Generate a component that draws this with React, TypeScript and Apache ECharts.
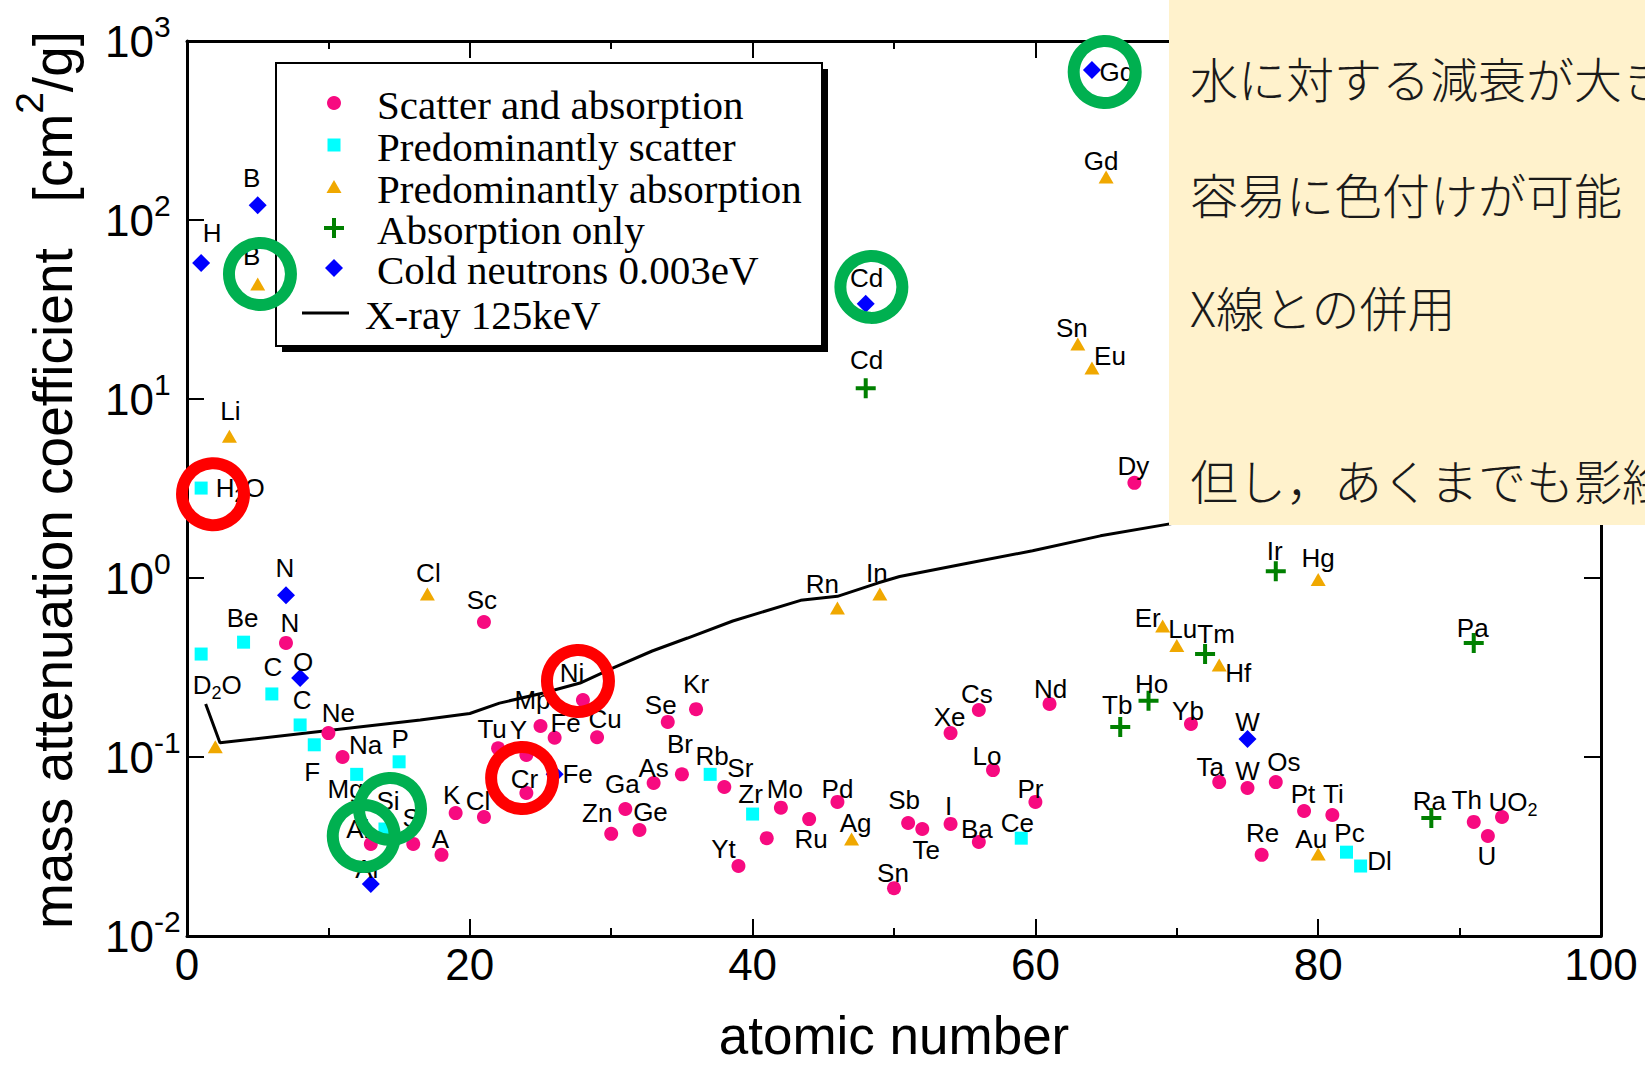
import React, { useEffect, useRef } from 'react';
import * as echarts from 'echarts';

// Element points: [atomic number, mass attenuation coefficient (cm^2/g), label]
type Pt = [number, number, string];

const scatterAndAbsorption: Pt[] = [
  [7, 0.434, 'N'], [10, 0.136, 'Ne'], [11, 0.1, 'Na'], [13, 0.0327, 'Al'], [16, 0.0327, 'S'],
  [18, 0.0284, 'A'], [19, 0.0486, 'K'], [21, 0.0462, 'Cl'], [21, 0.568, 'Sc'], [22, 0.112, 'Tu'],
  [24, 0.1026, 'Y'], [24, 0.063, 'Cr'], [25, 0.149, 'Mp'], [26, 0.128, 'Fe'], [28, 0.208, 'Ni'],
  [29, 0.129, 'Cu'], [30, 0.0372, 'Zn'], [31, 0.0512, 'Ga'], [32, 0.0391, 'Ge'], [33, 0.0716, 'As'],
  [34, 0.157, 'Se'], [35, 0.08, 'Br'], [36, 0.185, 'Kr'], [38, 0.068, 'Sr'], [39, 0.0246, 'Yt'],
  [41, 0.0352, ''], [42, 0.0521, 'Mo'], [44, 0.045, 'Ru'], [46, 0.0561, 'Pd'], [50, 0.0185, 'Sn'],
  [51, 0.0428, 'Sb'], [52, 0.0396, 'Te'], [54, 0.0423, 'I'], [54, 0.136, 'Xe'], [56, 0.183, 'Cs'],
  [56, 0.0335, 'Ba'], [57, 0.0845, 'Lo'], [60, 0.0561, 'Pr'], [61, 0.198, 'Nd'], [67, 3.4, 'Dy'],
  [71, 0.153, 'Yb'], [73, 0.0724, 'Ta'], [75, 0.0671, 'W'], [76, 0.0284, 'Re'], [77, 0.0724, 'Os'],
  [79, 0.0499, 'Pt'], [81, 0.0474, 'Ti'], [91, 0.0434, 'Th'], [92, 0.0362, 'U'], [93, 0.0462, 'UO2'],
];

const predominantlyScatter: Pt[] = [
  [1, 3.18, 'H2O'], [1, 0.376, 'D2O'], [4, 0.438, 'Be'], [6, 0.225, 'C'], [8, 0.151, 'C'],
  [9, 0.117, 'F'], [12, 0.08, 'Mg'], [14, 0.0396, 'Si'], [15, 0.094, 'P'], [37, 0.08, 'Rb'],
  [40, 0.048, 'Zr'], [59, 0.0352, 'Ce'], [82, 0.0294, 'Pc'], [83, 0.0246, 'Dl'],
];

const predominantlyAbsorption: Pt[] = [
  [2, 0.114, ''], [3, 6.2, 'Li'], [5, 43.9, 'B'], [17, 0.815, 'Cl'], [46, 0.68, 'Rn'],
  [47, 0.0348, 'Ag'], [49, 0.815, 'In'], [63, 20.3, 'Sn'], [64, 14.9, 'Eu'], [65, 174, 'Gd'],
  [69, 0.54, 'Er'], [70, 0.42, 'Lu'], [73, 0.327, 'Hf'], [80, 0.98, 'Hg'], [80, 0.0287, 'Au'],
];

const absorptionOnly: Pt[] = [
  [48, 11.5, 'Cd'], [66, 0.147, 'Tb'], [68, 0.206, 'Ho'], [72, 0.376, 'Tm'], [77, 1.09, 'Ir'],
  [88, 0.0456, 'Ra'], [91, 0.434, 'Pa'],
];

const coldNeutrons: Pt[] = [
  [1, 57.5, 'H'], [5, 121, 'B'], [7, 0.8, 'N'], [8, 0.276, 'O'], [13, 0.0195, 'Al'],
  [26, 0.08, 'Fe'], [48, 34, 'Cd'], [64, 689, 'Gd'], [75, 0.126, 'W'],
];

// X-ray 125 keV attenuation curve
const xray125keV: [number, number][] = [
  [1.32, 0.198], [2.33, 0.12], [16.5, 0.161], [20, 0.175], [22.1, 0.2], [25.2, 0.228],
  [27.8, 0.259], [30.1, 0.314], [32.9, 0.391], [35.4, 0.462], [38.6, 0.575], [43.4, 0.75],
  [46, 0.79], [48.9, 0.94], [50.4, 1.02], [55.2, 1.21], [59.8, 1.42], [64.6, 1.72],
  [69.4, 2.0], [70.5, 2.06],
];

// Highlight rings: [atomic number, value, colour key]
const highlightRings: [number, number, 'green' | 'red'][] = [
  [5.16, 49.9, 'green'], [1.84, 2.94, 'red'], [14.36, 0.0513, 'green'], [12.5, 0.0362, 'green'],
  [27.65, 0.266, 'red'], [23.7, 0.0763, 'red'], [48.4, 42.3, 'green'], [64.9, 671, 'green'],
];

// Label offsets (px) from each marker centre, same order as the point lists
const scatterAndAbsorptionLabelOffsets: [number, number][] = [
  [4, -20], [10, -20], [23, -12], [-13, -15], [-2, -26],
  [-1, -16], [-4, -18], [-6, -16], [-2, -22], [-6, -19],
  [-8, -25], [-2, -14], [-8, -26], [11, -15], [-11, -27],
  [8, -18], [-14, -21], [-3, -25], [11, -18], [0, -15],
  [-7, -17], [-2, -30], [0, -25], [16, -19], [-15, -17],
  [0, 0], [4, -19], [2, 20], [0, -13], [-1, -15],
  [-4, -23], [4, 21], [-2, -18], [-1, -16], [-2, -16],
  [-2, -13], [-6, -14], [-5, -13], [1, -15], [-1, -17],
  [-3, -13], [-9, -15], [0, -17], [1, -22], [8, -20],
  [-1, -17], [1, -21], [-7, -22], [-1, 20], [11, -15],
];
const predominantlyScatterLabelOffsets: [number, number][] = [
  [39, 0], [16, 31], [-1, -24], [1, -27], [2, -25],
  [-2, 27], [-11, 15], [3, -28], [1, -23], [2, -18],
  [-2, -20], [-4, -15], [3, -19], [19, -5],
];
const predominantlyAbsorptionLabelOffsets: [number, number][] = [
  [0, 0], [1, -25], [-6, -28], [1, -21], [-15, -24],
  [4, -16], [-3, -21], [-6, -16], [18, -12], [-5, -16],
  [-15, -8], [6, -16], [19, 8], [0, -22], [-7, -15],
];
const absorptionOnlyLabelOffsets: [number, number][] = [
  [1, -28], [-3, -22], [3, -17], [11, -20], [-1, -20], [-2, -17], [-1, -15],
];
const coldNeutronsLabelOffsets: [number, number][] = [
  [11, -30], [-6, -27], [-1, -27], [3, -16], [-4, -15], [23, 0], [1, -26], [25, 2], [0, -17],
];

const legendNames = [
  'Scatter and absorption',
  'Predominantly scatter',
  'Predominantly absorption',
  'Absorption only',
  'Cold neutrons 0.003eV',
  'X-ray 125keV',
];

const noteLines = [
  '水に対する減衰が大きい',
  '容易に色付けが可能',
  'X線との併用',
  '但し，あくまでも影絵',
];

const PINK = '#F70A80';
const CYAN = '#00FFFF';
const ORANGE = '#F0A800';
const GREEN = '#008000';
const BLUE = '#0000FF';
const RING_GREEN = '#00B050';
const RING_RED = '#FF0000';
const NOTE_FILL = '#FFF2CC';
const SANS = 'Liberation Sans, Arial, sans-serif';
const SERIF = 'Liberation Serif, Times New Roman, serif';
const PLUS = 'path://M4,0H6V4H10V6H6V10H4V6H0V4H4Z';

const chem = (s: string) => s.replace(/(\d)/g, '{sub|$1}');

function pointSeries(
  name: string,
  pts: Pt[],
  offsets: [number, number][],
  symbol: string,
  symbolSize: number | number[],
  color: string,
) {
  return {
    type: 'scatter',
    name,
    symbol,
    symbolSize,
    z: 3,
    itemStyle: { color, opacity: 1 },
    emphasis: { disabled: true },
    label: {
      show: true,
      position: 'inside',
      color: '#000',
      fontSize: 26,
      lineHeight: 34,
      fontFamily: SANS,
      textBorderWidth: 0,
      formatter: (p: any) => chem(p.name || ''),
      rich: {
        sub: { fontSize: 18, lineHeight: 18, verticalAlign: 'bottom', fontFamily: SANS, color: '#000' },
      },
    },
    data: pts.map((p, i) => ({
      value: [p[0], p[1]],
      name: p[2],
      label: { offset: offsets[i] },
    })),
  };
}

function axisCommon() {
  return {
    axisLine: { show: true, onZero: false, lineStyle: { color: '#000', width: 3 } },
    axisTick: { show: true, inside: true, length: 17, lineStyle: { color: '#000', width: 2 } },
    splitLine: { show: false },
  };
}

// Legend box with a solid drop shadow, drawn as graphic elements
function buildLegend(): any[] {
  const z = 6;
  const rowY = [103, 145, 187, 228, 268, 313];
  const sx = 334;
  const els: any[] = [
    { type: 'rect', z, shape: { x: 282, y: 69, width: 546, height: 283 }, style: { fill: '#000' } },
    { type: 'rect', z, shape: { x: 276, y: 63, width: 546, height: 283 }, style: { fill: '#fff', stroke: '#000', lineWidth: 2 } },
    { type: 'circle', z, shape: { cx: sx, cy: rowY[0], r: 7 }, style: { fill: PINK } },
    { type: 'rect', z, shape: { x: sx - 6.5, y: rowY[1] - 6.5, width: 13, height: 13 }, style: { fill: CYAN } },
    {
      type: 'polygon',
      z,
      shape: { points: [[sx, rowY[2] - 7], [sx + 7.5, rowY[2] + 6], [sx - 7.5, rowY[2] + 6]] },
      style: { fill: ORANGE },
    },
    { type: 'rect', z, shape: { x: sx - 10, y: rowY[3] - 2, width: 20, height: 4 }, style: { fill: GREEN } },
    { type: 'rect', z, shape: { x: sx - 2, y: rowY[3] - 10, width: 4, height: 20 }, style: { fill: GREEN } },
    {
      type: 'polygon',
      z,
      shape: { points: [[sx, rowY[4] - 9], [sx + 9, rowY[4]], [sx, rowY[4] + 9], [sx - 9, rowY[4]]] },
      style: { fill: BLUE },
    },
    { type: 'line', z, shape: { x1: 302, y1: rowY[5], x2: 349, y2: rowY[5] }, style: { stroke: '#000', lineWidth: 3 } },
  ];
  legendNames.forEach((t, i) => {
    els.push({
      type: 'text',
      z,
      x: i === 5 ? 365 : 377,
      y: rowY[i] + 2,
      style: {
        text: t,
        fontSize: 41,
        lineHeight: 38,
        fontFamily: SERIF,
        fill: '#000',
        align: 'left',
        verticalAlign: 'middle',
      },
    });
  });
  return els;
}

// Note panel in the upper right, laid over the plot
function buildNote(): any[] {
  const z = 100;
  const lineY = [77, 193, 306, 479];
  const els: any[] = [
    { type: 'rect', z, shape: { x: 1169, y: 0, width: 476, height: 525 }, style: { fill: NOTE_FILL } },
  ];
  noteLines.forEach((t, i) => {
    els.push({
      type: 'text',
      z: z + 1,
      x: 1190,
      y: lineY[i],
      style: {
        text: t,
        fontSize: 48,
        fontFamily: 'Noto Sans CJK JP, sans-serif',
        fontWeight: 300,
        fill: '#1a1a1a',
        align: 'left',
        verticalAlign: 'middle',
      },
    });
  });
  return els;
}

export default function App() {
  const ref = useRef<HTMLDivElement>(null);

  useEffect(() => {
    if (!ref.current) return;
    const chart = echarts.init(ref.current, null, { renderer: 'svg' });

    const ringData = highlightRings.map((r) => ({
      value: [r[0], r[1]],
      itemStyle: { borderColor: r[2] === 'green' ? RING_GREEN : RING_RED },
    }));

    const option: any = {
      animation: false,
      backgroundColor: '#ffffff',
      textStyle: { fontFamily: SANS },
      grid: { left: 187, right: 44, top: 41, bottom: 129 },
      xAxis: [
        {
          type: 'value',
          position: 'bottom',
          min: 0,
          max: 100,
          interval: 20,
          ...axisCommon(),
          minorTick: { show: true, splitNumber: 2, length: 8, lineStyle: { color: '#000', width: 2 } },
          minorSplitLine: { show: false },
          axisLabel: { show: true, fontSize: 44, color: '#000', fontFamily: SANS, margin: 6 },
        },
        {
          type: 'value',
          position: 'top',
          min: 0,
          max: 100,
          interval: 20,
          ...axisCommon(),
          minorTick: { show: true, splitNumber: 2, length: 8, lineStyle: { color: '#000', width: 2 } },
          minorSplitLine: { show: false },
          axisLabel: { show: false },
        },
      ],
      yAxis: [
        {
          type: 'log',
          logBase: 10,
          position: 'left',
          min: 0.01,
          max: 1000,
          splitNumber: 5,
          ...axisCommon(),
          axisLabel: {
            show: true,
            align: 'left',
            margin: 82,
            color: '#000',
            formatter: (v: number) => `{b|10}{s|${Math.round(Math.log10(v))}}`,
            rich: {
              b: { fontSize: 44, lineHeight: 60, fontFamily: SANS, color: '#000' },
              s: { fontSize: 30, lineHeight: 30, verticalAlign: 'top', fontFamily: SANS, color: '#000' },
            },
          },
        },
        {
          type: 'log',
          logBase: 10,
          position: 'right',
          min: 0.01,
          max: 1000,
          splitNumber: 5,
          ...axisCommon(),
          axisLabel: { show: false },
        },
      ],
      graphic: [
        ...buildLegend(),
        {
          type: 'text',
          x: 53,
          y: 480,
          rotation: Math.PI / 2,
          z: 6,
          style: {
            text: 'mass attenuation coefficient\u00A0\u00A0\u00A0[cm{sup|2}/g]',
            fontSize: 55,
            lineHeight: 86,
            fontFamily: SANS,
            fill: '#000',
            align: 'center',
            verticalAlign: 'middle',
            rich: {
              sup: { fontSize: 39, lineHeight: 39, verticalAlign: 'top', fontFamily: SANS, fill: '#000' },
            },
          },
        },
        {
          type: 'text',
          x: 894,
          y: 1035,
          z: 6,
          style: {
            text: 'atomic number',
            fontSize: 53,
            lineHeight: 52,
            fontFamily: SANS,
            fill: '#000',
            align: 'center',
            verticalAlign: 'middle',
          },
        },
        ...buildNote(),
      ],
      series: [
        {
          type: 'line',
          name: 'X-ray 125keV',
          data: xray125keV,
          showSymbol: false,
          symbol: 'none',
          z: 2,
          lineStyle: { color: '#000', width: 3 },
          emphasis: { disabled: true },
        },
        pointSeries('Scatter and absorption', scatterAndAbsorption, scatterAndAbsorptionLabelOffsets, 'circle', 14, PINK),
        pointSeries('Predominantly scatter', predominantlyScatter, predominantlyScatterLabelOffsets, 'rect', 13, CYAN),
        pointSeries('Predominantly absorption', predominantlyAbsorption, predominantlyAbsorptionLabelOffsets, 'triangle', [15, 13], ORANGE),
        pointSeries('Absorption only', absorptionOnly, absorptionOnlyLabelOffsets, PLUS, 20, GREEN),
        pointSeries('Cold neutrons 0.003eV', coldNeutrons, coldNeutronsLabelOffsets, 'diamond', 18, BLUE),
        {
          type: 'scatter',
          name: 'rings',
          symbol: 'circle',
          symbolSize: 62,
          z: 10,
          silent: true,
          itemStyle: { color: 'rgba(0,0,0,0)', borderWidth: 12, opacity: 1 },
          emphasis: { disabled: true },
          data: ringData,
        },
      ],
    };

    chart.setOption(option);
    return () => chart.dispose();
  }, []);

  return (
    <div
      ref={ref}
      style={{ position: 'fixed', left: 0, top: 0, width: 1645, height: 1065, background: '#fff' }}
    />
  );
}
